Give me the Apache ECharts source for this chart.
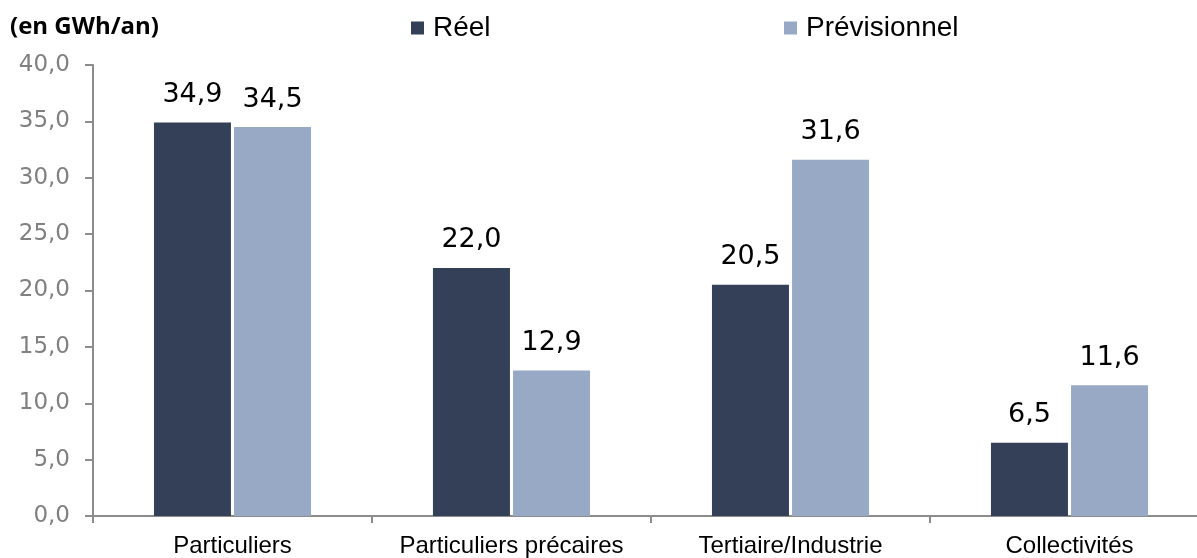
<!DOCTYPE html>
<html>
<head>
<meta charset="utf-8">
<script src="https://cdn.jsdelivr.net/npm/echarts@6/dist/echarts.min.js"></script>
<style>html,body{margin:0;padding:0;background:#fff;overflow:hidden}#c{width:1210px;height:558px}</style>
</head>
<body>
<div id="c"></div>
<script>
const categories = ['Particuliers', 'Particuliers précaires', 'Tertiaire/Industrie', 'Collectivités'];
const reel = [34.9, 22.0, 20.5, 6.5];
const previsionnel = [34.5, 12.9, 31.6, 11.6];
const yTicks = [0, 5, 10, 15, 20, 25, 30, 35, 40];

const fmt = v => v.toFixed(1).replace('.', ',');
const chart = echarts.init(document.getElementById('c'));
chart.setOption({
  animation: false,
  textStyle: { fontFamily: 'Liberation Sans' },
  title: {
    text: '(en GWh/an)', left: 5, top: 10,
    textStyle: { fontFamily: 'Open Sans', fontWeight: 'bold', fontSize: 24, color: '#000' }
  },
  legend: [
    { data: ['Réel'], left: 411, top: 14, itemWidth: 13, itemHeight: 13, padding: 0, icon: 'rect',
      textStyle: { fontSize: 28, color: '#000', padding: [0, 0, 0, 4] } },
    { data: ['Prévisionnel'], left: 784, top: 14, itemWidth: 13, itemHeight: 13, padding: 0, icon: 'rect',
      textStyle: { fontSize: 28, color: '#000', padding: [0, 0, 0, 4] } }
  ],
  grid: { left: 93, right: 1, top: 65, bottom: 41, containLabel: false },
  xAxis: {
    type: 'category', data: categories,
    axisLine: { lineStyle: { color: '#8c8c8c', width: 2 } },
    axisTick: { show: true, length: 7, lineStyle: { color: '#8c8c8c', width: 2 } },
    axisLabel: { fontSize: 24, color: '#000', margin: 18, interval: 0 }
  },
  yAxis: {
    type: 'value', min: 0, max: 40, interval: 5,
    splitLine: { show: false },
    axisLine: { show: true, lineStyle: { color: '#8c8c8c', width: 2 } },
    axisTick: { show: true, length: 8, lineStyle: { color: '#8c8c8c', width: 2 } },
    axisLabel: { fontSize: 23, fontFamily: 'DejaVu Sans', color: '#808080', margin: 23, formatter: v => yTicks.includes(v) ? fmt(v) : '' }
  },
  series: [
    { name: 'Réel', type: 'bar', data: reel, barWidth: 77, barGap: '4%',
      itemStyle: { color: '#334057' },
      label: { show: true, position: 'top', distance: 14, fontSize: 27, fontFamily: 'DejaVu Sans', color: '#000', formatter: p => fmt(p.value) } },
    { name: 'Prévisionnel', type: 'bar', data: previsionnel, barWidth: 77,
      itemStyle: { color: '#98a9c5' },
      label: { show: true, position: 'top', distance: 14, fontSize: 27, fontFamily: 'DejaVu Sans', color: '#000', formatter: p => fmt(p.value) } }
  ]
});
</script>
</body>
</html>
